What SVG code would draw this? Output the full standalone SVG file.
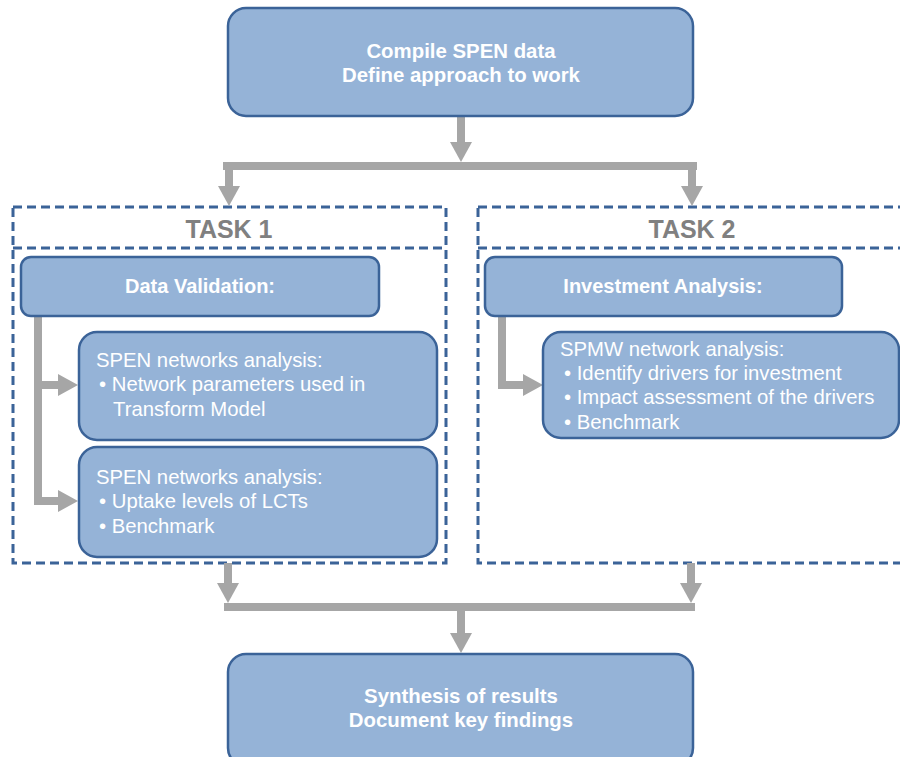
<svg xmlns="http://www.w3.org/2000/svg" width="900" height="757" viewBox="0 0 900 757">
<defs>
<style>
.box{fill:#95B3D7;stroke:#3B6398;stroke-width:2.5}
.dash{fill:none;stroke:#3B6398;stroke-width:3;stroke-dasharray:9 5}
.conn{fill:none;stroke:#A6A6A6;stroke-width:8;stroke-linejoin:miter}
.tb{font-family:"Liberation Sans",Arial,sans-serif;font-weight:bold;font-size:20.4px;fill:#FFFFFF;text-anchor:middle}
.tm{font-family:"Liberation Sans",Arial,sans-serif;font-weight:bold;font-size:20px;fill:#FFFFFF;text-anchor:middle}
.tn{font-family:"Liberation Sans",Arial,sans-serif;font-size:20.3px;fill:#FFFFFF}
.task{font-family:"Liberation Sans",Arial,sans-serif;font-weight:bold;font-size:25px;fill:#808080;text-anchor:middle}
</style>
<marker id="ah" viewBox="0 0 20 22" refX="0" refY="11" markerWidth="20" markerHeight="22" markerUnits="userSpaceOnUse" orient="auto">
<path d="M0,0 L20,11 L0,22 Z" fill="#A6A6A6"/>
</marker>
</defs>

<g id="task1-frame">
<rect class="dash" x="13" y="207" width="433" height="356"/>
<line class="dash" x1="13" y1="248" x2="446" y2="248"/>
<text class="task" x="229" y="238">TASK 1</text>
</g>
<g id="task2-frame">
<rect class="dash" x="478" y="207" width="440" height="356"/>
<line class="dash" x1="478" y1="248" x2="918" y2="248"/>
<text class="task" x="692" y="238">TASK 2</text>
</g>

<g id="connectors">
<path class="conn" d="M461,116 V142" marker-end="url(#ah)"/>
<path class="conn" d="M223,166 H697"/>
<path class="conn" d="M229,166 V186" marker-end="url(#ah)"/>
<path class="conn" d="M692,166 V186" marker-end="url(#ah)"/>
<path class="conn" d="M38,316 V501 H58" marker-end="url(#ah)"/>
<path class="conn" d="M38,385 H58" marker-end="url(#ah)"/>
<path class="conn" d="M502,316 V385 H523" marker-end="url(#ah)"/>
<path class="conn" d="M228,563 V583" marker-end="url(#ah)"/>
<path class="conn" d="M691,563 V583" marker-end="url(#ah)"/>
<path class="conn" d="M224,607 H695"/>
<path class="conn" d="M461,607 V633" marker-end="url(#ah)"/>
</g>

<g id="compile">
<rect class="box" x="228" y="8" width="465" height="108" rx="18"/>
<text class="tb" x="461" y="58">Compile SPEN data</text>
<text class="tb" x="461" y="82">Define approach to work</text>
</g>

<g id="data-validation">
<rect class="box" x="21" y="257" width="358" height="59" rx="10"/>
<text class="tm" x="200" y="293">Data Validation:</text>
</g>

<g id="spen-params">
<rect class="box" x="79" y="332" width="358" height="108" rx="18"/>
<text class="tn" x="96" y="367">SPEN networks analysis:</text>
<text class="tn" x="99" y="391">• Network parameters used in</text>
<text class="tn" x="113" y="416">Transform Model</text>
</g>

<g id="spen-lct">
<rect class="box" x="79" y="447" width="358" height="110" rx="18"/>
<text class="tn" x="96" y="484">SPEN networks analysis:</text>
<text class="tn" x="99" y="508">• Uptake levels of LCTs</text>
<text class="tn" x="99" y="533">• Benchmark</text>
</g>

<g id="investment">
<rect class="box" x="485" y="257" width="357" height="59" rx="10"/>
<text class="tm" x="663" y="293">Investment Analysis:</text>
</g>

<g id="spmw">
<rect class="box" x="543" y="332" width="356" height="106" rx="18"/>
<text class="tn" x="560" y="356">SPMW network analysis:</text>
<text class="tn" x="564" y="380">• Identify drivers for investment</text>
<text class="tn" x="564" y="404">• Impact assessment of the drivers</text>
<text class="tn" x="564" y="429">• Benchmark</text>
</g>

<g id="synthesis">
<rect class="box" x="228" y="654" width="465" height="112" rx="18"/>
<text class="tb" x="461" y="703">Synthesis of results</text>
<text class="tb" x="461" y="727">Document key findings</text>
</g>
</svg>
